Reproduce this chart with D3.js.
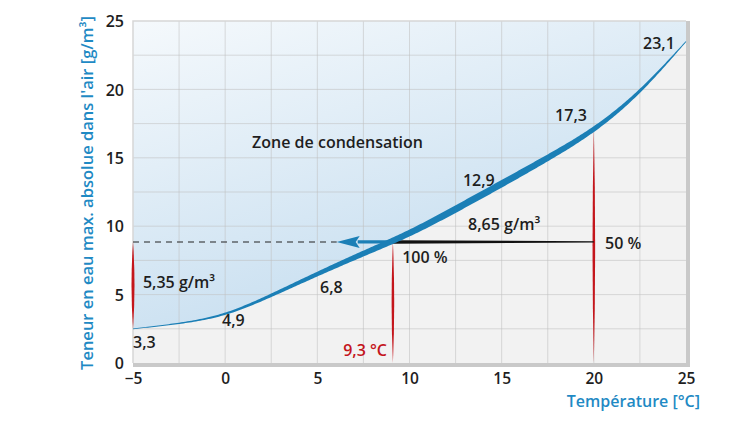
<!DOCTYPE html>
<html>
<head>
<meta charset="utf-8">
<script src="https://cdn.jsdelivr.net/npm/d3@7"></script>
<style>
  body { margin: 0; background: #fff; }
  text { font-family: "Open Sans", sans-serif; }
</style>
</head>
<body>
<div id="chart"></div>
<script>
// saturation curve
const temps = [-5, -2.5, 0, 2.5, 5, 7.5, 10, 12.5, 15, 17.5, 20, 22.5, 25];
const waterContent = [2.5, 2.9, 3.6, 4.95, 6.5, 8.0, 9.5, 11.25, 13.1, 15.0, 17.1, 19.9, 23.5];

const xTicks = [-5, 0, 5, 10, 15, 20, 25];
const xTickLabels = ["\u22125", "0", "5", "10", "15", "20", "25"];
const yTicks = [0, 5, 10, 15, 20, 25];
const xGrid = [-2.5, 0, 2.5, 5, 7.5, 10, 12.5, 15, 17.5, 20, 22.5];
const yGrid = [2.5, 5, 7.5, 10, 12.5, 15, 17.5, 20, 22.5];

// the worked example (air at 20 °C / 50 % cooled to dew point)
const airTemp = 20;
const dewPoint = 9.1;
const airContent = 8.85;
const arrowTip = 6.05;

// annotation texts and where they sit (data units)
const labelTexts = ["3,3", "4,9", "6,8", "12,9", "17,3", "23,1", "5,35 g/m\u00b3", "8,65 g/m\u00b3", "50 %", "100 %", "Zone de condensation"];
const labelX = [-5.0, -0.17, 5.15, 12.9, 17.9, 22.67, -4.46, 13.18, 20.61, 9.6, 1.46];
const labelY = [1.54, 3.14, 5.56, 13.38, 18.13, 23.39, 5.92, 10.16, 8.77, 7.75, 16.15];
const dewLabel = "9,3 \u00b0C";
const dewLabelPos = [8.78, 0.95];

const W = 750, H = 422;
const margin = {top: 21, right: 64, bottom: 59, left: 133};
const width = W - margin.left - margin.right,
      height = H - margin.top - margin.bottom;
const fontSize = "16px";

const svg = d3.select("#chart").append("svg")
    .attr("width", W).attr("height", H);

const x = d3.scaleLinear().domain([-5, 25]).range([0, width]);
const y = d3.scaleLinear().domain([0, 25]).range([height, 0]);

const defs = svg.append("defs");
const grad = defs.append("linearGradient").attr("id", "zone")
    .attr("x1", 0).attr("y1", 0).attr("x2", 0.55).attr("y2", 1);
grad.append("stop").attr("offset", 0).attr("stop-color", "#f5f9fc");
grad.append("stop").attr("offset", 1).attr("stop-color", "#c3dcef");

const g = svg.append("g").attr("transform", `translate(${margin.left},${margin.top})`);

// background below the curve
g.append("rect").attr("width", width).attr("height", height).attr("fill", "#f2f2f2");

const pts = temps.map((t, i) => [t, waterContent[i]]);
const curve = d3.curveNatural;

// condensation zone above the curve
g.append("path")
    .datum(pts)
    .attr("fill", "url(#zone)")
    .attr("d", d3.area().curve(curve)
        .x(d => x(d[0]))
        .y0(0)
        .y1(d => y(d[1])));

// grid
g.selectAll(".gx").data(xGrid).enter().append("line")
    .attr("x1", d => x(d)).attr("x2", d => x(d))
    .attr("y1", 0).attr("y2", height)
    .attr("stroke", "#bfbfbf").attr("stroke-opacity", 0.55).attr("stroke-width", 1);
g.selectAll(".gy").data(yGrid).enter().append("line")
    .attr("y1", d => y(d)).attr("y2", d => y(d))
    .attr("x1", 0).attr("x2", width)
    .attr("stroke", "#bfbfbf").attr("stroke-opacity", 0.55).attr("stroke-width", 1);

// frame: light top/left, heavier right/bottom
g.append("path").attr("fill", "none").attr("stroke", "#d6d6d6").attr("stroke-width", 1.5)
    .attr("d", `M0,${height}V0H${width}`);
g.append("path").attr("fill", "none").attr("stroke", "#c9c9c9").attr("stroke-width", 4)
    .attr("d", `M${width + 2},0V${height + 2}H0`);

// dashed level line
g.append("line")
    .attr("x1", x(-5)).attr("x2", x(arrowTip))
    .attr("y1", y(airContent)).attr("y2", y(airContent))
    .attr("stroke", "#222").attr("stroke-width", 1.1).attr("stroke-dasharray", "6,5");

// red spindle markers
function spindle(xv, y1v, y2v, w) {
  const p = d3.path();
  const cx = x(xv), a = y(y1v), b = y(y2v), m = (a + b) / 2;
  p.moveTo(cx, a);
  p.quadraticCurveTo(cx + w, m, cx, b);
  p.quadraticCurveTo(cx - w, m, cx, a);
  p.closePath();
  return p.toString();
}
const curveAt = t => {
  const i = d3.bisectLeft(temps, t);
  if (i <= 0) return waterContent[0];
  const f = (t - temps[i - 1]) / (temps[i] - temps[i - 1]);
  return waterContent[i - 1] + f * (waterContent[i] - waterContent[i - 1]);
};
const red = "#c4161c";
g.append("path").attr("fill", red).attr("d", spindle(-5, airContent, waterContent[0], 3));
g.append("path").attr("fill", red).attr("d", spindle(dewPoint, airContent, 0, 2.6));
g.append("path").attr("fill", red).attr("d", spindle(airTemp, curveAt(airTemp), 0, 2.6));

// black tapering line from 20 °C to the dew point
const ya = y(airContent);
g.append("path").attr("fill", "#111")
    .attr("d", `M${x(airTemp)},${ya - 0.6}L${x(dewPoint)},${ya - 1.7}L${x(dewPoint)},${ya + 1.7}L${x(airTemp)},${ya + 0.6}Z`);

// blue arrow to the left
const blue = "#1b7fb6";
const headLen = 23, headHalf = 6;
g.append("line")
    .attr("x1", x(dewPoint)).attr("x2", x(arrowTip) + headLen - 2)
    .attr("y1", ya).attr("y2", ya)
    .attr("stroke", blue).attr("stroke-width", 3.2);
g.append("path").attr("fill", blue)
    .attr("d", `M${x(arrowTip)},${ya}L${x(arrowTip) + headLen},${ya - headHalf}L${x(arrowTip) + headLen - 4},${ya}L${x(arrowTip) + headLen},${ya + headHalf}Z`);

// saturation curve as a ribbon of varying thickness
const guide = g.append("path").datum(pts).attr("fill", "none")
    .attr("d", d3.line().curve(curve).x(d => x(d[0])).y(d => y(d[1])));
const node = guide.node();
const total = node.getTotalLength();
const N = 300;
const samples = d3.range(N + 1).map(i => node.getPointAtLength(total * i / N));
guide.remove();
const thick = px => {
  const t = Math.max(0, Math.min(1, px / width));
  return 0.8 + 6.0 * Math.sin(Math.PI * Math.pow(t, 1.45));
};
const upper = [], lower = [];
samples.forEach((p, i) => {
  const a = samples[Math.max(0, i - 1)], b = samples[Math.min(N, i + 1)];
  const dx = b.x - a.x, dy = b.y - a.y;
  const len = Math.hypot(dx, dy) || 1;
  const nx = -dy / len, ny = dx / len;
  const w = thick(p.x) / 2;
  upper.push([p.x + nx * w, p.y + ny * w]);
  lower.push([p.x - nx * w, p.y - ny * w]);
});
g.append("path").attr("fill", blue)
    .attr("d", d3.line()(upper.concat(lower.reverse())) + "Z");

// axes
const xAxis = g.append("g").attr("transform", `translate(0,${height})`)
    .call(d3.axisBottom(x).tickValues(xTicks).tickSize(0).tickPadding(10)
        .tickFormat((d, i) => xTickLabels[i]));
const yAxis = g.append("g")
    .call(d3.axisLeft(y).tickValues(yTicks).tickSize(0).tickPadding(9));
[xAxis, yAxis].forEach(a => {
  a.select(".domain").remove();
  a.selectAll("text")
      .style("font-family", "'Open Sans', sans-serif")
      .style("font-size", fontSize).style("font-weight", 600).attr("fill", "#1e1e1e");
});
xAxis.selectAll("text").style("font-size", "15.5px");
yAxis.selectAll("text").attr("dy", "0.35em");

// annotations
g.selectAll(".lbl").data(labelTexts).enter().append("text")
    .attr("x", (d, i) => x(labelX[i]))
    .attr("y", (d, i) => y(labelY[i]))
    .attr("dy", "0.35em")
    .attr("fill", "#1e1e1e")
    .style("font-size", fontSize).style("font-weight", 600)
    .text(d => d);
g.append("text")
    .attr("x", x(dewLabelPos[0])).attr("y", y(dewLabelPos[1])).attr("dy", "0.35em")
    .attr("text-anchor", "end").attr("fill", red)
    .style("font-size", fontSize).style("font-weight", 600)
    .text(dewLabel);

// axis titles
svg.append("text")
    .attr("transform", `translate(93,193) rotate(-90)`)
    .attr("text-anchor", "middle").attr("fill", "#1f8ac4")
    .style("font-size", "16.5px").style("font-weight", 600)
    .text("Teneur en eau max. absolue dans l'air [g/m\u00b3]");
svg.append("text")
    .attr("x", 700).attr("y", 407)
    .attr("text-anchor", "end").attr("fill", "#1f8ac4")
    .style("font-size", "16px").style("font-weight", 600)
    .text("Temp\u00e9rature [\u00b0C]");
</script>
</body>
</html>
